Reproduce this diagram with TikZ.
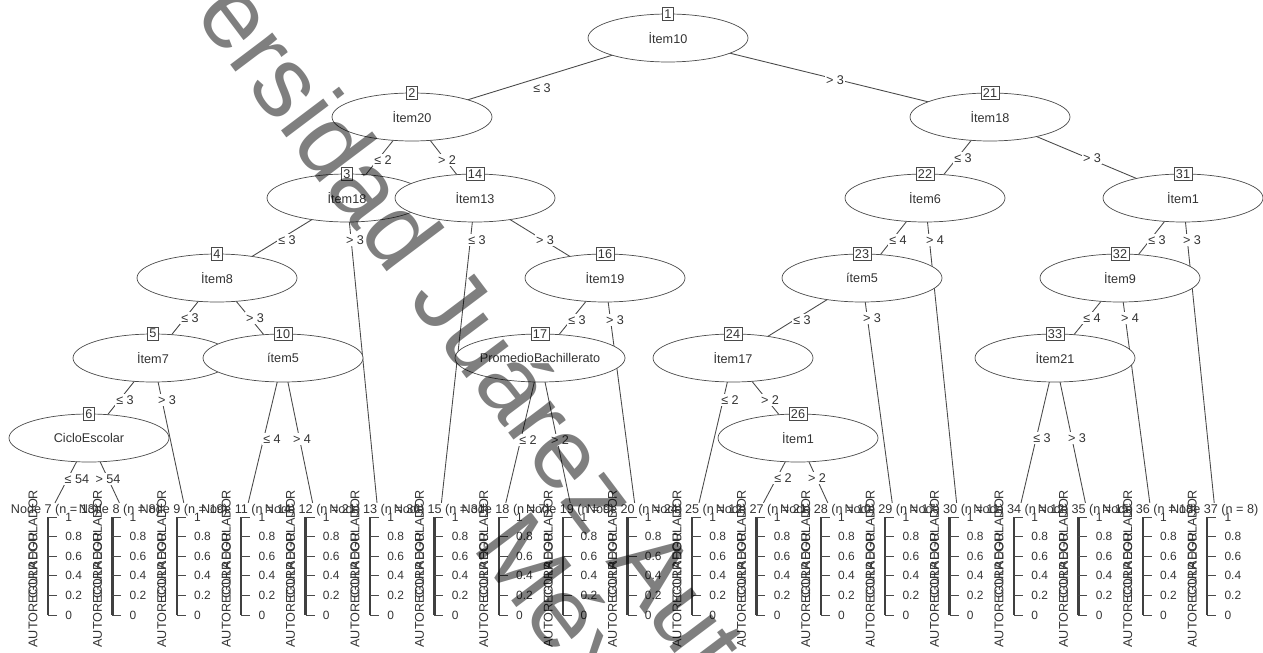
\documentclass[tikz,border=0pt]{standalone}
\usepackage{fontspec}
\setmainfont{Liberation Sans}
\usepackage{xcolor}
\usepackage{tikz}
\usetikzlibrary{positioning, backgrounds, shapes.geometric}
\definecolor{inkgray}{HTML}{333333}
\definecolor{linegray}{HTML}{4A4A4A}
\newcommand{\treefont}{\fontsize{7.2}{8.6}\selectfont}
\newcommand{\tickfont}{\fontsize{6.8}{8}\selectfont}

\begin{document}
\begin{tikzpicture}[x=0.02cm, y=-0.02cm,
  splitnode/.style={draw=linegray, ellipse, fill=white, minimum width=3.2cm, minimum height=0.96cm, inner sep=0pt, font=\treefont, text=inkgray},
  idbox/.style={draw=linegray, fill=white, inner sep=1.2pt, minimum height=0.27cm, font=\treefont, text=inkgray},
  edgelab/.style={fill=white, inner sep=0.8pt, font=\treefont, text=inkgray},
  leaflab/.style={inner sep=0.5pt, font=\treefont, text=inkgray},
  classlab/.style={rotate=90, inner sep=0pt, font=\treefont, text=inkgray},
  ticklab/.style={anchor=west, inner sep=1pt, font=\tickfont, text=inkgray},
  edgeline/.style={draw=linegray, line width=0.5pt},
  barline/.style={draw=black!75, line width=1.3pt},
  tickline/.style={draw=linegray, line width=0.5pt},
  watermark/.style={rotate=-53, anchor=base, inner sep=0pt, font=\fontsize{57}{68}\selectfont, text=black, text opacity=0.5}
]
  \useasboundingbox (0,0) rectangle (1263,652);

  % inner nodes
  \node[splitnode] (n1) at (668,38) {İtem10};
  \node[idbox] (b1) at (n1.north) {1};
  \node[splitnode] (n2) at (412,117) {İtem20};
  \node[idbox] (b2) at (n2.north) {2};
  \node[splitnode] (n3) at (347,198) {İtem18};
  \node[idbox] (b3) at (n3.north) {3};
  \node[splitnode] (n4) at (217,278) {İtem8};
  \node[idbox] (b4) at (n4.north) {4};
  \node[splitnode] (n5) at (153,358) {İtem7};
  \node[idbox] (b5) at (n5.north) {5};
  \node[splitnode] (n6) at (89,438) {CicloEscolar};
  \node[idbox] (b6) at (n6.north) {6};
  \node[splitnode] (n10) at (283,358) {ítem5};
  \node[idbox] (b10) at (n10.north) {10};
  \node[splitnode] (n14) at (475,198) {İtem13};
  \node[idbox] (b14) at (n14.north) {14};
  \node[splitnode] (n16) at (605,278) {İtem19};
  \node[idbox] (b16) at (n16.north) {16};
  \node[splitnode] (n17) at (540,358) {PromedioBachillerato};
  \node[idbox] (b17) at (n17.north) {17};
  \node[splitnode] (n21) at (990,117) {İtem18};
  \node[idbox] (b21) at (n21.north) {21};
  \node[splitnode] (n22) at (925,198) {İtem6};
  \node[idbox] (b22) at (n22.north) {22};
  \node[splitnode] (n23) at (862,278) {ítem5};
  \node[idbox] (b23) at (n23.north) {23};
  \node[splitnode] (n24) at (733,358) {İtem17};
  \node[idbox] (b24) at (n24.north) {24};
  \node[splitnode] (n26) at (798,438) {İtem1};
  \node[idbox] (b26) at (n26.north) {26};
  \node[splitnode] (n31) at (1183,198) {İtem1};
  \node[idbox] (b31) at (n31.north) {31};
  \node[splitnode] (n32) at (1120,278) {İtem9};
  \node[idbox] (b32) at (n32.north) {32};
  \node[splitnode] (n33) at (1055,358) {İtem21};
  \node[idbox] (b33) at (n33.north) {33};

  % terminal panels
  \foreach \k/\n [count=\i from 0] in {7/13, 8/8, 9/19, 11/14, 12/21, 13/36, 15/31, 18/7, 19/9, 20/24, 25/12, 27/21, 28/10, 29/17, 30/11, 34/12, 35/15, 36/18, 37/8} {
    \pgfmathsetmacro\cx{55+64.4*\i}
    \node[leaflab] (t\k) at (\cx,510) {Node \k\ (n = \n)};
    \node[classlab] (a\k) at (\cx-22,590) {AUTOREGULADOR};
    \node[classlab] (c\k) at (\cx-22,544) {CORREGULADOR};
    \draw[barline] (\cx-7,517) -- (\cx-7,615);
    \foreach \v/\tv in {0/0, 0.2/0.2, 0.4/0.4, 0.6/0.6, 0.8/0.8, 1/1}
      \draw[tickline] (\cx-7,615-98*\v) -- ++(9,0) node[ticklab, xshift=3.5pt] {\tv};
  }

  % connectors
  \begin{scope}[on background layer]
    \draw[edgeline] (n1.center) -- (n2.center) (n1.center) -- (n21.center)
      (n2.center) -- (n3.center) (n2.center) -- (n14.center)
      (n3.center) -- (n4.center) (n3.center) -- (t13.north)
      (n4.center) -- (n5.center) (n4.center) -- (n10.center)
      (n5.center) -- (n6.center) (n5.center) -- (t9.north)
      (n6.center) -- (t7.north) (n6.center) -- (t8.north)
      (n10.center) -- (t11.north) (n10.center) -- (t12.north)
      (n14.center) -- (t15.north) (n14.center) -- (n16.center)
      (n16.center) -- (n17.center) (n16.center) -- (t20.north)
      (n17.center) -- (t18.north) (n17.center) -- (t19.north)
      (n21.center) -- (n22.center) (n21.center) -- (n31.center)
      (n22.center) -- (n23.center) (n22.center) -- (t30.north)
      (n23.center) -- (n24.center) (n23.center) -- (t29.north)
      (n24.center) -- (t25.north) (n24.center) -- (n26.center)
      (n26.center) -- (t27.north) (n26.center) -- (t28.north)
      (n31.center) -- (n32.center) (n31.center) -- (t37.north)
      (n32.center) -- (n33.center) (n32.center) -- (t36.north)
      (n33.center) -- (t34.north) (n33.center) -- (t35.north);
  \end{scope}

  % split labels
  \foreach \c/\p/\s in {2/{542,88}/≤ 3, 21/{835,80}/> 3, 3/{383,160}/≤ 2, 14/{447,160}/> 2,
      4/{287,240}/≤ 3, 13/{355,240}/> 3, 5/{190,318}/≤ 3, 10/{255,318}/> 3,
      6/{125,400}/≤ 3, 9/{167,400}/> 3, 7/{77,479}/≤ 54, 8/{108,479}/> 54,
      11/{272,439}/≤ 4, 12/{302,439}/> 4, 15/{477,240}/≤ 3, 16/{545,240}/> 3,
      17/{577,320}/≤ 3, 20/{615,320}/> 3, 18/{528,440}/≤ 2, 19/{560,440}/> 2,
      25/{730,400}/≤ 2, 26/{770,400}/> 2, 27/{783,478}/≤ 2, 28/{817,478}/> 2,
      22/{963,158}/≤ 3, 31/{1092,158}/> 3, 23/{898,240}/≤ 4, 30/{935,240}/> 4,
      24/{802,320}/≤ 3, 29/{872,318}/> 3, 32/{1157,240}/≤ 3, 37/{1192,240}/> 3,
      33/{1092,318}/≤ 4, 36/{1130,318}/> 4, 34/{1042,438}/≤ 3, 35/{1077,438}/> 3}
    \node[edgelab] (l\c) at (\p) {\s};

  % watermark
  \begin{scope}
    \clip (0,0) rectangle (1263,652);
    \node[watermark] (wm1) at (639,606) {Universidad Juárez Autónoma de Tabasco};
    \node[watermark] (wm2) at (575,685) {México.};
  \end{scope}
\end{tikzpicture}
\end{document}
